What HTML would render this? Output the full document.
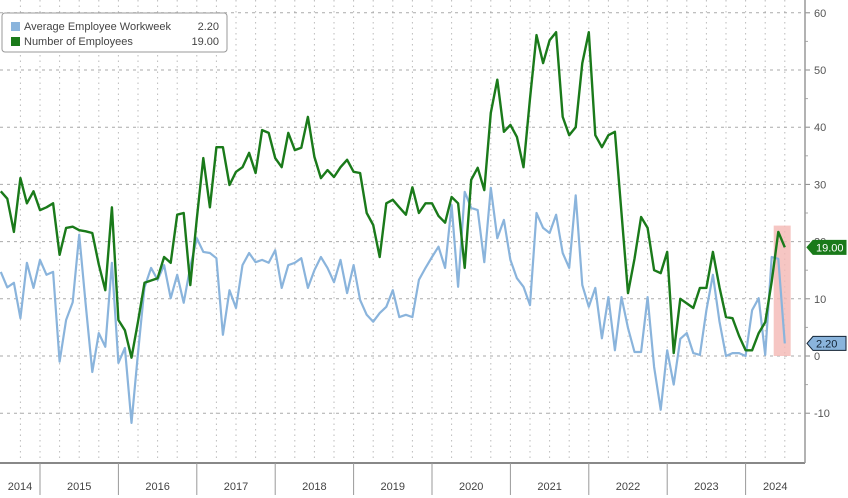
<!DOCTYPE html>
<html><head><meta charset="utf-8"><style>
html,body{margin:0;padding:0;background:#fff;}
svg{display:block;font-family:"Liberation Sans",sans-serif;}
</style></head><body>
<svg id="chart" width="848" height="498" viewBox="0 0 848 498" xmlns="http://www.w3.org/2000/svg">
<g id="grid"></g>
<g id="axes"></g>
<rect id="hl" fill="#f4b8b4" opacity="0.8"></rect>
<g id="series"></g>
<g>
<rect x="2" y="13" width="225" height="39" rx="3" fill="#fff" stroke="#999" stroke-width="1"/>
<rect x="11" y="22" width="9" height="9" fill="#8ab4dc"/>
<text x="24" y="30" font-size="11" fill="#444">Average Employee Workweek</text>
<text x="219" y="30" font-size="11" fill="#444" text-anchor="end">2.20</text>
<rect x="11" y="37" width="9" height="9" fill="#1a7a1a"/>
<text x="24" y="45" font-size="11" fill="#444">Number of Employees</text>
<text x="219" y="45" font-size="11" fill="#444" text-anchor="end">19.00</text>
</g>
<g id="tags"></g>
</svg>
<script>
const startMonth = 6; // months since Jan 2014
const employees = [28.8,27.5,21.7,31.1,26.7,28.8,25.5,26,26.7,17.7,22.4,22.6,22,21.8,21.5,16,11.5,26,6.3,4.5,-0.3,6,
12.8,13.2,13.6,17.3,16.3,24.7,25,12.4,24,34.6,26,36.5,36.5,29.9,32.2,33,35.5,32,39.5,39,
34.6,33,39,36,36.4,41.8,34.8,31.1,32.5,31.3,33,34.3,32.2,32,25,22.9,17.3,26.7,27.3,26,24.7,29.5,
25,26.7,26.7,24.5,23.3,27.8,26.7,15.4,30.8,32.9,29,42.5,48.3,39.2,40.4,38.3,33,45,56.1,51.2,55.2,56.6,
41.8,38.6,40,51.2,56.6,38.6,36.5,38.6,39.2,25,11,17,24.3,22.4,15,14.5,18.2,0.5,
10,9.2,8.4,11.9,11.9,18.2,12,6.8,6.6,3.5,1,1,4,5.9,13,21.7,19];
const workweek = [14.7,12,12.8,6.6,16.3,11.9,16.8,14.2,14.7,-1,6.3,9.4,21.2,9,-2.8,4,1.6,16.3,-1.2,1.4,-11.7,0.5,
12,15.4,13.3,15.9,10.1,14.2,9.3,15.6,20.6,18.2,18,17.1,3.7,11.5,8.4,15.9,18,16.4,16.8,16.3,
18.5,11.9,15.9,16.3,17.1,11.9,15,17.3,15.4,12.9,16.8,11,15.9,9.8,7.2,6,7.5,8.6,11.5,6.8,7.2,6.8,
13.3,15.4,17.3,19.1,15.4,26.4,12.1,28.7,25.9,25.5,16.4,29.4,20.6,23.8,16.8,13.6,12.1,8.9,25,22.4,21.5,24.7,
18,15.4,28.1,12.4,8.6,11.9,3.1,10.3,1,10.3,4.9,0.7,0.7,10.3,-1.9,-9.4,1,-5,
3,4,0.5,0.2,8,14.2,6,0,0.5,0.5,0,8,10.1,0.2,17.3,17,2.2];
const yTicks = [-10,0,10,20,30,40,50,60];
const years = [2014,2015,2016,2017,2018,2019,2020,2021,2022,2023,2024];
const lastEmployees = "19.00";
const lastWorkweek = "2.20";

const NS="http://www.w3.org/2000/svg";
const PR=805, AX=463;
function xm(m){return 40+(m-12)*78.4/12;}
function yv(v){return 356-v*5.72;}
function mk(tag,attrs,parent){const e=document.createElementNS(NS,tag);for(const k in attrs)e.setAttribute(k,attrs[k]);parent.appendChild(e);return e;}
const grid=document.getElementById('grid'), axes=document.getElementById('axes'), series=document.getElementById('series'), tags=document.getElementById('tags');
// vertical quarter gridlines
for(let q=-8;q<=40;q++){const x=xm(12+q*3); if(x<1||x>PR-1)continue;
 const l=mk('line',{x1:x,x2:x,y1:0,y2:AX,stroke:'#bbb','stroke-width':1,'stroke-dasharray':'1.5,4'},grid);
 
 }
yTicks.forEach(t=>{const y=yv(t);
 const l=mk('line',{x1:0,x2:PR,y1:y,y2:y,stroke:'#aaa','stroke-width':1,'stroke-dasharray':'3,4'},grid);
 
 
 const tk=mk('line',{x1:PR,x2:PR+5,y1:y,y2:y,stroke:'#888'},axes);
 
 
 const tx=mk('text',{x:PR+9,y:y+4,'font-size':11,fill:'#555'},axes);
 tx.textContent=t;
 
 
 const mt=mk('line',{x1:PR,x2:PR+3,y1:yv(t+5),y2:yv(t+5),stroke:'#aaa'},axes);
 
 
});
const ax=mk('line',{x1:0,x2:PR,y1:AX,y2:AX,stroke:'#888','stroke-width':2},axes);


const ay=mk('line',{x1:PR,x2:PR,y1:0,y2:AX,stroke:'#999','stroke-width':1.5},axes);


years.forEach((yr,i)=>{const x0=xm(i*12), x1=xm(i*12+12);
 if(x0>0){const s=mk('line',{x1:x0,x2:x0,y1:AX,y2:495,stroke:'#999','stroke-width':1},axes);
  
  }
 const cx=(Math.max(x0,0)+Math.min(x1,PR))/2;
 const t=mk('text',{x:cx,y:490,'font-size':11,fill:'#444','text-anchor':'middle'},axes);
 t.textContent=yr;
 
 
});
const lastM=startMonth+employees.length-1;
const hl=document.getElementById('hl');
hl.setAttribute('x',xm(lastM-1.7)); hl.setAttribute('width',xm(lastM+0.9)-xm(lastM-1.7));
hl.setAttribute('y',yv(22.8)); hl.setAttribute('height',yv(0)-yv(22.8));
function line(data,color,w,name){const pts=data.map((v,i)=>xm(startMonth+i).toFixed(1)+','+yv(v).toFixed(1)).join(' ');
 const p=mk('polyline',{points:pts,fill:'none',stroke:color,'stroke-width':w,'stroke-linejoin':'round'},series);
 
 }
line(workweek,'#8ab4dc',2.2,'workweek-line');
line(employees,'#1a7a1a',2.4,'employees-line');
function tag(val,label,bg,fg,name){const y=yv(val);
 const p=mk('path',{d:`M${PR+2},${y} L${PR+8},${y-7} H846 V${y+7} H${PR+8} Z`,fill:bg,stroke:fg==='#fff'?bg:'#123','stroke-width':1},tags);
 
 
 const t=mk('text',{x:PR+11,y:y+4,'font-size':11,fill:fg},tags);
 t.textContent=label;
 
 }
tag(employees[employees.length-1],lastEmployees,'#1a7a1a','#fff','employees-value-tag');
tag(workweek[workweek.length-1],lastWorkweek,'#8ab4dc','#123','workweek-value-tag');
</script>
</body></html>
